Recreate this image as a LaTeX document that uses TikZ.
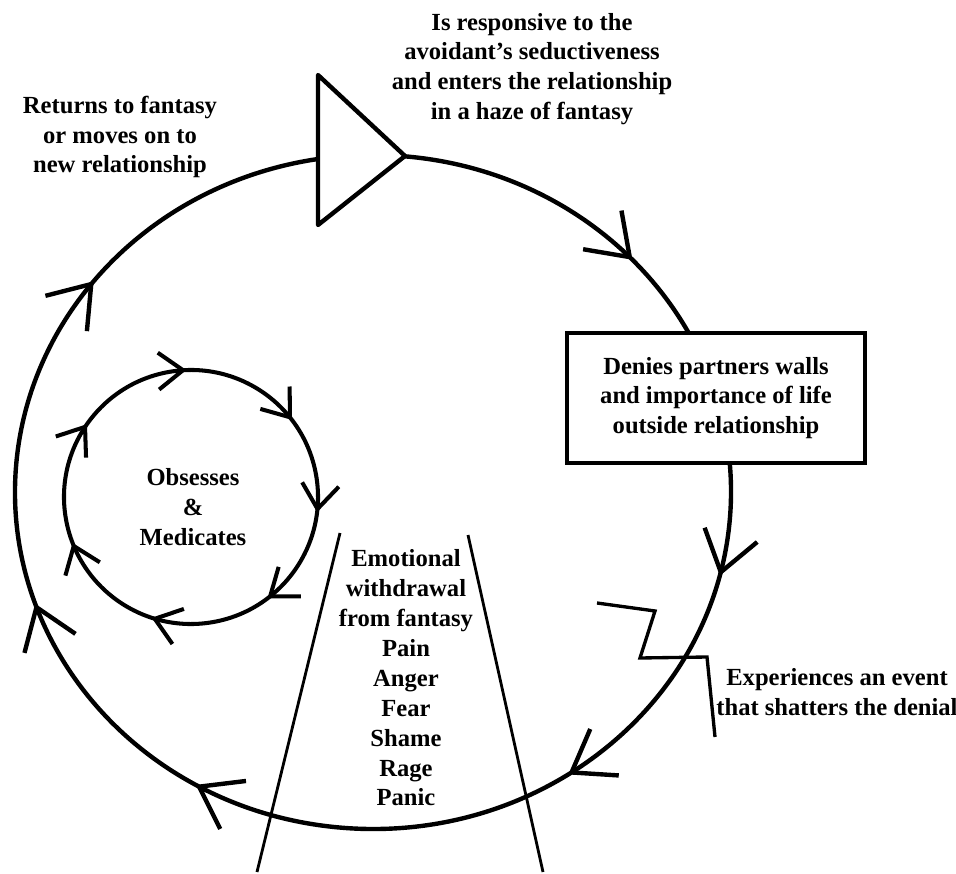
\documentclass[tikz,border=0pt]{standalone}
\usepackage{fontspec}
\setmainfont{Liberation Serif}
\usetikzlibrary{arrows.meta}
\usetikzlibrary{decorations.markings}

\begin{document}
\begin{tikzpicture}[x=0.02cm,y=0.02cm]
	\tikzstyle{txt}=[align=center,font=\bfseries\fontsize{14}{17}\selectfont,inner sep=0pt]
	\tikzstyle{loopline}=[line width=2.5pt,line join=round]
	\tikzstyle{cycle}=[loopline,postaction={decorate},decoration={markings,
		mark=at position 0.122 with {\arrow{Straight Barb[length=22pt,width=31pt]}},
		mark=at position 0.286 with {\arrow{Straight Barb[length=22pt,width=31pt]}},
		mark=at position 0.408 with {\arrow{Straight Barb[length=22pt,width=31pt]}},
		mark=at position 0.594 with {\arrow{Straight Barb[length=22pt,width=31pt]}},
		mark=at position 0.712 with {\arrow{Straight Barb[length=22pt,width=31pt]}},
		mark=at position 0.876 with {\arrow{Straight Barb[length=22pt,width=31pt]}}}]
	\tikzstyle{spin}=[loopline,line width=2.3pt,postaction={decorate},decoration={markings,
		mark=at position 0.022 with {\arrow{Straight Barb[length=14pt,width=21pt]}},
		mark=at position 0.174 with {\arrow{Straight Barb[length=14pt,width=21pt]}},
		mark=at position 0.297 with {\arrow{Straight Barb[length=14pt,width=21pt]}},
		mark=at position 0.425 with {\arrow{Straight Barb[length=14pt,width=21pt]}},
		mark=at position 0.578 with {\arrow{Straight Barb[length=14pt,width=21pt]}},
		mark=at position 0.719 with {\arrow{Straight Barb[length=14pt,width=21pt]}},
		mark=at position 0.875 with {\arrow{Straight Barb[length=14pt,width=21pt]}}}]
	\tikzstyle{denybox}=[txt,draw,fill=white,line width=1.8pt,minimum width=5.96cm,minimum height=2.6cm]
	\useasboundingbox (0,0) rectangle (956,-874);
	\coordinate (outer) at (373,-492);
	\coordinate (inner) at (191,-497);
	\draw[cycle] (outer) ++(85:358 and 337) arc[start angle=85,end angle=-261,x radius=358,y radius=337];
	\draw[spin] (inner) ++(100:127) arc[start angle=100,end angle=-260,radius=127];
	\node[denybox] (deny) at (716,-398){Denies partners walls\\and importance of life\\outside relationship};
	\filldraw[fill=white,loopline] (318,-75) -- (405,-156) -- (318,-225) -- cycle;
	\draw[line width=1.9pt,line join=miter] (597,-603) -- (655,-611) -- (640,-658) -- (707,-657) -- (715,-737);
	\draw[line width=1.6pt] (340,-533) -- (257,-872);
	\draw[line width=1.6pt] (468,-535) -- (543,-872);
	\node[txt] (back) at (120,-137){Returns to fantasy\\or moves on to\\new relationship};
	\node[txt] (enter) at (532,-69){Is responsive to the\\avoidant’s seductiveness\\and enters the relationship\\in a haze of fantasy};
	\node[txt] (obsess) at (193,-507){Obsesses\\\&\\Medicates};
	\node[txt] (withdraw) at (406,-678){Emotional\\withdrawal\\from fantasy\\Pain\\Anger\\Fear\\Shame\\Rage\\Panic};
	\node[txt] (shatter) at (837,-692){Experiences an event\\that shatters the denial};
\end{tikzpicture}
\end{document}
